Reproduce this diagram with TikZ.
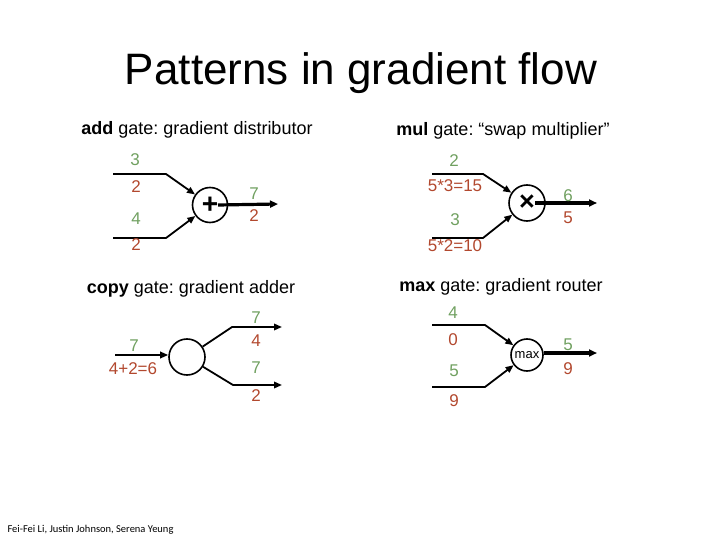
\documentclass[tikz,border=0pt]{standalone}
\usepackage{fontspec}
\setmainfont{Liberation Sans}
\newfontfamily\creditfont{Carlito}
\usetikzlibrary{arrows.meta}
\definecolor{fwdgreen}{RGB}{112,160,96}
\definecolor{backred}{RGB}{178,72,46}
\frenchspacing

\begin{document}
\begin{tikzpicture}[x=1pt,y=-1pt,
 gate/.style={draw,circle,line width=1.6pt,inner sep=0pt,minimum size=#1},
 flow/.style={line width=1.8pt,line join=round,-{Triangle[length=8pt,width=6.5pt]}},
 outflow/.style={line width=3.2pt,-{Triangle[length=8pt,width=7pt]}},
 val/.style={text=fwdgreen,font=\fontsize{17}{20}\selectfont},
 grad/.style={text=backred,font=\fontsize{17}{20}\selectfont},
 head/.style={font=\fontsize{18}{22}\selectfont}]
\useasboundingbox(0,0)rectangle(720,540);
\node[font=\fontsize{44}{50}\selectfont,anchor=base](title)at(361,85){Patterns in gradient flow};
\node[head](addhd)at(197,130){\textbf{add} gate: gradient distributor};
\node[head](mulhd)at(503,131){\textbf{mul} gate: “swap multiplier”};
\node[head](cpyhd)at(191,289){\textbf{copy} gate: gradient adder};
\node[head](maxhd)at(501,287){\textbf{max} gate: gradient router};
\node[font=\creditfont\fontsize{10.5}{12}\selectfont,anchor=west](credit)at(4,530){Fei-Fei Li, Justin Johnson, Serena Yeung};

\node[gate=35,font=\fontsize{28}{28}\selectfont\bfseries](add)at(210,205){+};
\coordinate(a1)at(113,174);\coordinate(a1b)at(166,174);\coordinate(a2)at(113,238);\coordinate(a2b)at(166,238);\coordinate(aout)at(278,204);
\draw[flow](a1)--(a1b)--(add);\draw[flow](a2)--(a2b)--(add);\draw[outflow]([xshift=8pt]add.center)--(aout);
\node[val](av1)at(135,160){3};\node[grad](ag1)at(136,187){2};\node[val](av2)at(136,219){4};\node[grad](ag2)at(136,245){2};
\node[val](avo)at(254,194){7};\node[grad](ago)at(254,216){2};

\node[gate=36,font=\fontsize{27}{27}\selectfont\bfseries](mul)at(527,203){×};
\coordinate(m1)at(432,174);\coordinate(m1b)at(483,174);\coordinate(m2)at(432,238);\coordinate(m2b)at(483,238);\coordinate(mout)at(597,203);
\draw[flow](m1)--(m1b)--(mul);\draw[flow](m2)--(m2b)--(mul);\draw[outflow]([xshift=8pt]mul.center)--(mout);
\node[val](mv1)at(454,161){2};\node[grad](mg1)at(455,186){5*3=15};\node[val](mv2)at(455,220){3};\node[grad](mg2)at(455,246){5*2=10};
\node[val](mvo)at(568,196){6};\node[grad](mgo)at(568,218){5};

\node[gate=36](cpy)at(187,357){};
\coordinate(c0)at(115,355);\coordinate(c1b)at(232,327);\coordinate(c1)at(282,327);\coordinate(c2b)at(233,385);\coordinate(c2)at(282,385);
\draw[flow](c0)--(c0-|cpy.west);\draw[flow](cpy)--(c1b)--(c1);\draw[flow](cpy)--(c2b)--(c2);
\node[val](cv0)at(134,346){7};\node[grad](cg0)at(133,369){4+2=6};
\node[val](cv1)at(256,318){7};\node[grad](cg1)at(256,341){4};\node[val](cv2)at(256,368){7};\node[grad](cg2)at(256,396){2};

\node[gate=32,font=\fontsize{13}{13}\selectfont](max)at(527,355){max};
\coordinate(x1)at(432,325);\coordinate(x1b)at(485,325);\coordinate(x2)at(432,387);\coordinate(x2b)at(485,387);\coordinate(xout)at(597,353);
\draw[flow](x1)--(x1b)--(max);\draw[flow](x2)--(x2b)--(max);\draw[outflow](max.east|-xout)--(xout);
\node[val](xv1)at(453,313){4};\node[grad](xg1)at(453,340){0};\node[val](xv2)at(454,371){5};\node[grad](xg2)at(454,401){9};
\node[val](xvo)at(568,345){5};\node[grad](xgo)at(568,369){9};
\end{tikzpicture}
\end{document}
